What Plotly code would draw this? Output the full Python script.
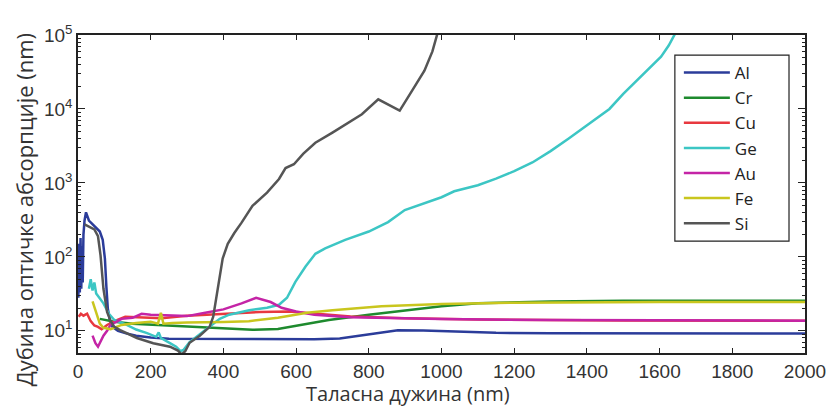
import plotly.graph_objects as go

# ---- data (wavelength in nm, optical absorption depth in nm) ----
al_x = [1, 3, 5, 7, 9, 11, 13, 15, 18, 22, 30, 45, 60, 68, 74, 78, 82, 88, 95, 110, 130, 160, 200, 250, 400, 650, 720, 780, 830, 880, 950, 1020, 1150, 1300, 1600, 2000]
al_y = [28, 150, 33, 180, 37, 140, 45, 200, 310, 400, 310, 260, 220, 170, 95, 40, 20, 13.5, 11.3, 10, 9.3, 8.6, 8.1, 7.8, 7.7, 7.7, 7.9, 8.7, 9.6, 10.2, 10.1, 9.8, 9.4, 9.25, 9.2, 9.2]

cr_x = [60, 100, 150, 220, 300, 400, 480, 550, 600, 690, 800, 900, 1000, 1100, 1200, 1300, 1500, 2000]
cr_y = [14.5, 13.3, 12.5, 12, 11.4, 10.8, 10.3, 10.6, 11.8, 14, 16.5, 19, 21.5, 23.5, 24.5, 25, 25.5, 25.5]

cu_x = [2, 8, 15, 25, 35, 45, 55, 65, 80, 100, 130, 180, 230, 300, 400, 500, 580, 650, 750, 900, 1100, 1500, 2000]
cu_y = [15.5, 17, 16, 17, 13.5, 11.8, 11.3, 10.5, 12, 13.5, 15.5, 15, 14.8, 16, 17, 18, 18.2, 17.2, 15.6, 14.8, 14.2, 13.8, 13.7]

ge_x = [30, 35, 40, 45, 50, 60, 70, 85, 100, 134, 160, 190, 215, 222, 228, 253, 270, 282, 290, 307, 335, 362, 390, 416, 471, 520, 553, 575, 598, 626, 653, 680, 735, 800, 826, 853, 899, 962, 1000, 1035, 1100, 1150, 1200, 1250, 1300, 1350, 1400, 1462, 1500, 1544, 1580, 1604, 1625, 1640, 1660]
ge_y = [37, 50, 35, 45, 32, 27, 23.5, 17, 14, 12, 10.4, 9.3, 8.3, 9.5, 8, 6.8, 6.1, 5.3, 5.5, 7, 9, 11.5, 14.5, 16.5, 19, 20.5, 22.5, 28, 46, 74, 110, 130, 170, 220, 255, 295, 430, 555, 640, 770, 930, 1140, 1440, 1890, 2690, 3990, 6000, 10000, 16000, 26000, 38000, 51000, 72000, 100000, 150000]

au_x = [40, 48, 55, 62, 70, 80, 90, 100, 120, 150, 175, 200, 250, 300, 350, 400, 450, 490, 530, 560, 600, 650, 750, 850, 1000, 1300, 2000]
au_y = [8.6, 6.8, 6.1, 7.3, 8.6, 10, 12.2, 12.8, 14.5, 15, 17, 16.5, 16, 15.8, 17.5, 19.5, 23.5, 28, 24.5, 20.5, 18.2, 16.5, 15.3, 14.8, 14.4, 14, 13.7]

fe_x = [40, 50, 60, 70, 90, 120, 160, 200, 220, 228, 235, 260, 300, 400, 470, 550, 630, 700, 835, 1000, 1200, 1600, 2000]
fe_y = [25, 18, 12.5, 11, 10.5, 12, 12.8, 13.3, 12.5, 17.5, 12.5, 12.8, 13, 13.2, 13.5, 15, 17.5, 19, 21.5, 23, 24, 24.5, 24.5]

si_x = [18, 30, 45, 55, 62, 70, 80, 90, 100, 116, 140, 162, 207, 253, 275, 285, 295, 307, 335, 362, 372, 380, 390, 398, 412, 430, 450, 480, 520, 553, 571, 594, 620, 653, 700, 735, 781, 826, 855, 885, 920, 953, 975, 990]
si_y = [275, 255, 235, 190, 105, 37, 18, 13.5, 11.3, 10.2, 8.9, 8, 6.8, 6.1, 5.4, 4.8, 5.3, 6.9, 8.6, 11.3, 15.5, 28, 56, 95, 150, 210, 290, 490, 740, 1130, 1590, 1790, 2490, 3490, 4790, 6190, 8490, 13500, 11500, 9500, 18000, 33000, 60000, 110000]

names = ["Al", "Cr", "Cu", "Ge", "Au", "Fe", "Si"]
colors = ["#2B3C9A", "#1E8A2E", "#E8383F", "#3CC6C4", "#C424A6", "#C9C61E", "#555555"]
series = [(al_x, al_y), (cr_x, cr_y), (cu_x, cu_y), (ge_x, ge_y), (au_x, au_y), (fe_x, fe_y), (si_x, si_y)]

x_ticks = list(range(0, 2001, 200))
y_tickvals = [10, 100, 1000, 10000, 100000]
y_ticktext = ["10<sup>1</sup>", "10<sup>2</sup>", "10<sup>3</sup>", "10<sup>4</sup>", "10<sup>5</sup>"]
x_title = "Таласна дужина (nm)"
y_title = "Дубина оптичке абсорпције (nm)"

fig = go.Figure()
for name, color, (xs, ys) in zip(names, colors, series):
    fig.add_trace(go.Scatter(x=xs, y=ys, mode="lines", name=name,
                             line=dict(color=color, width=2.5)))

tick_font = dict(family="Liberation Sans, Arial, sans-serif", size=19, color="#333333")
title_family = "Open Sans, Noto Sans, sans-serif"

# the page body has an 8px margin, so the figure is sized/offset to compensate
fig.update_layout(
    width=830, height=399,
    margin=dict(l=70, r=28, t=27, b=54),
    paper_bgcolor="white", plot_bgcolor="white",
    showlegend=True,
    legend=dict(x=0.8265, y=0.937, xanchor="left", yanchor="top",
                bgcolor="rgba(0,0,0,0)", borderwidth=0,
                font=dict(family=title_family, size=17, color="#222222"),
                itemwidth=46, tracegroupgap=0),
    shapes=[dict(type="rect", xref="paper", yref="paper", x0=0.821, x1=0.978,
                 y0=0.352, y1=0.937, line=dict(color="#222222", width=1.2),
                 fillcolor="white", layer="above")],
    xaxis=dict(range=[0, 2000], tickvals=x_ticks, ticks="inside", ticklen=5,
               tickcolor="#222222", showline=True, linecolor="#222222", linewidth=1.5,
               mirror="ticks", showgrid=False, zeroline=False, tickfont=tick_font),
    yaxis=dict(type="log", range=[0.70, 5], tickvals=y_tickvals, ticktext=y_ticktext,
               ticks="inside", ticklen=7, tickcolor="#222222", showline=True,
               linecolor="#222222", linewidth=1.5, mirror="ticks", showgrid=False,
               zeroline=False, tickfont=tick_font,
               minor=dict(ticks="inside", ticklen=3, tickcolor="#222222", dtick="D1", showgrid=False)),
    annotations=[
        dict(text=x_title, xref="paper", yref="paper", x=0.4536, y=-0.128,
             xanchor="center", yanchor="middle", showarrow=False,
             font=dict(family=title_family, size=20, color="#333333")),
        dict(text=y_title, xref="paper", yref="paper", x=-0.0751, y=0.45,
             xanchor="center", yanchor="middle", showarrow=False, textangle=-90,
             font=dict(family=title_family, size=22, color="#333333")),
    ],
)

fig.write_html("out.html")
